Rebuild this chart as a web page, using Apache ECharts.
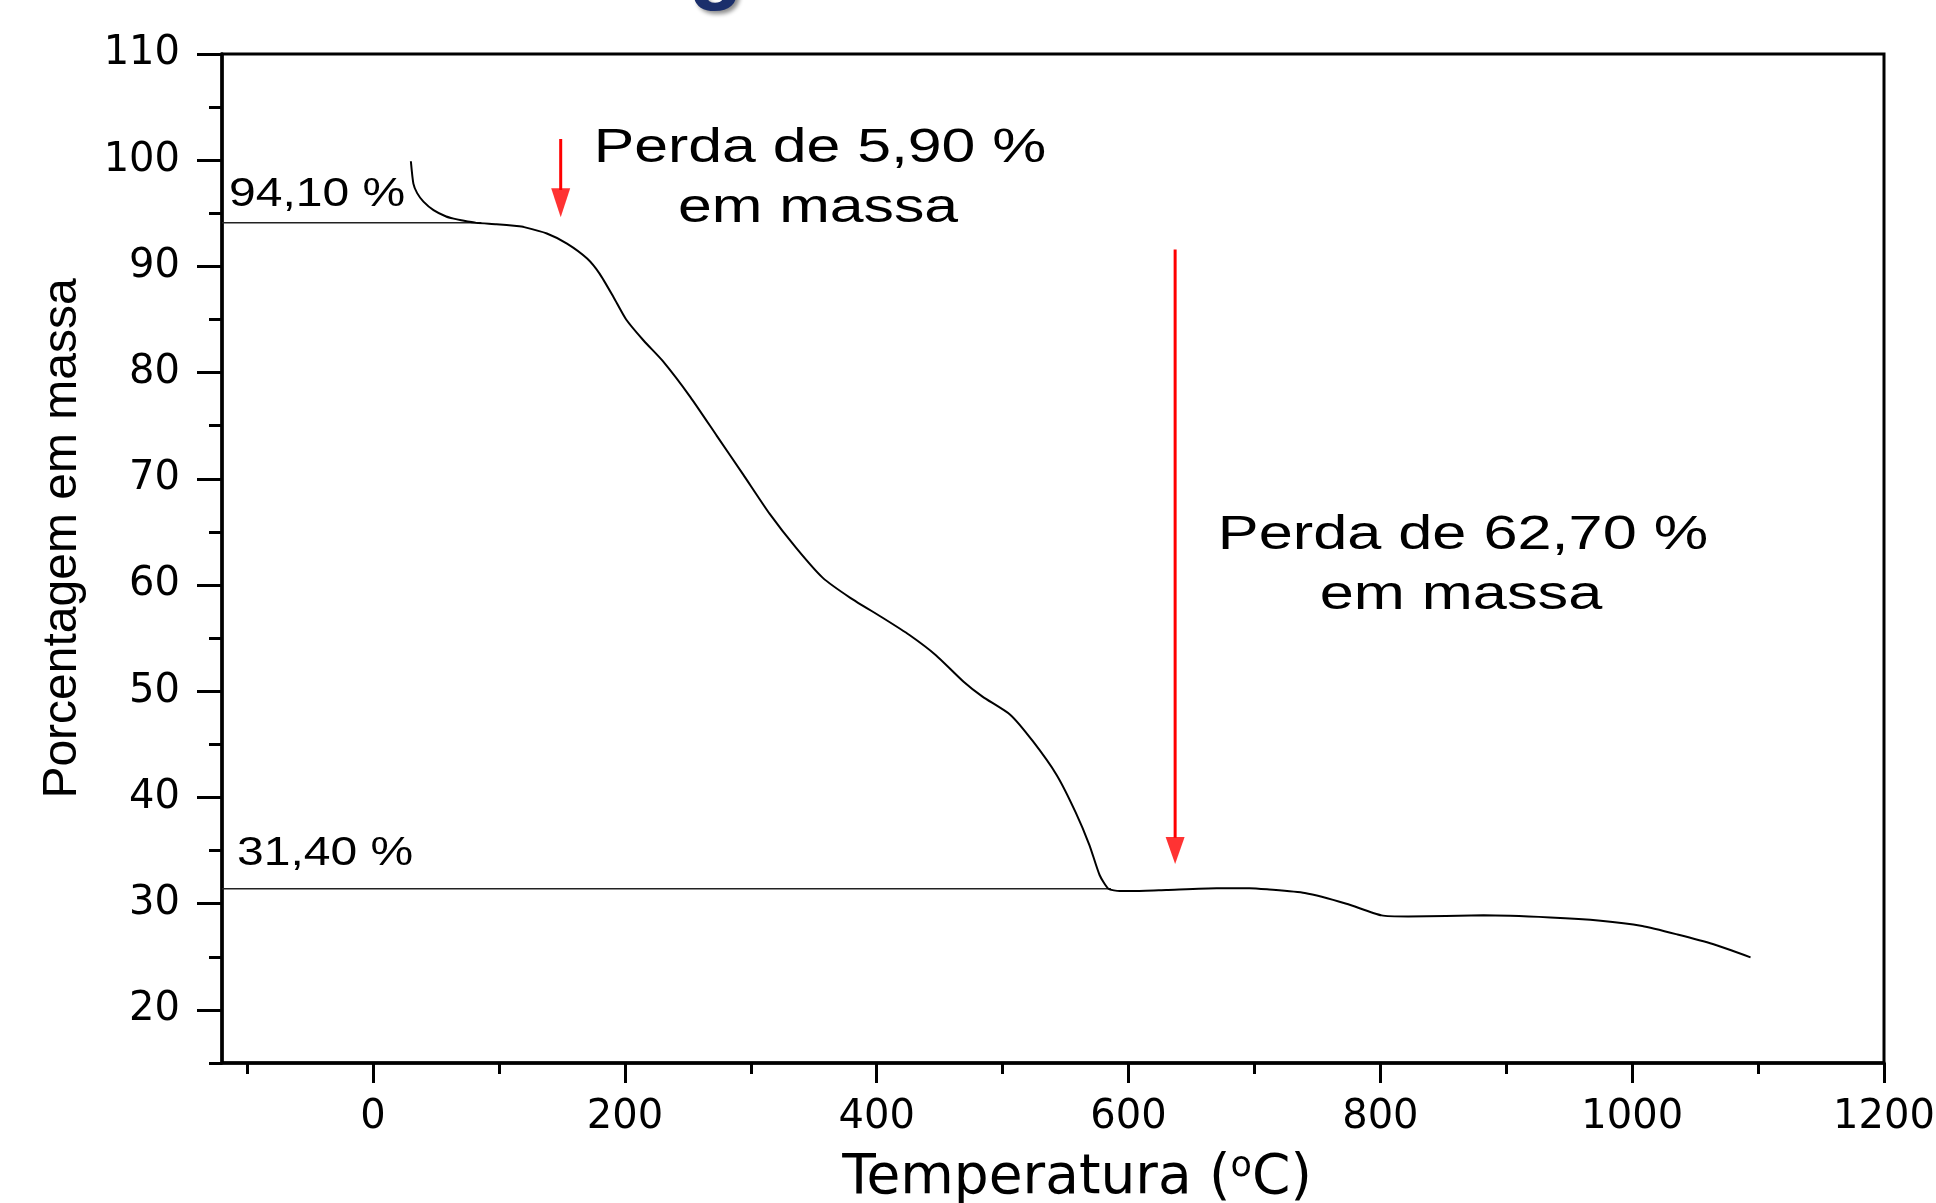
<!DOCTYPE html>
<html><head><meta charset="utf-8">
<style>html,body{margin:0;padding:0;background:#fff}#c{width:1936px;height:1203px}</style>
<script src="https://cdn.jsdelivr.net/npm/echarts@6/dist/echarts.min.js"></script>
</head><body><div id="c"></div>
<script>
// Temperature (°C) and remaining mass (%)
const temperature = [30, 32, 35, 40, 48, 58, 64, 70, 82, 98, 114, 120, 138, 154, 170, 180, 191, 201, 215, 230, 252, 273, 294, 315, 336, 357, 379, 405, 426, 447, 469, 484, 506, 524, 543, 558, 569, 577, 584, 593, 604, 630, 670, 696, 710, 740, 773, 801, 822, 882, 935, 975, 1008, 1036, 1064, 1094];
const massPercent = [99.9, 97.8, 96.9, 96.1, 95.3, 94.7, 94.5, 94.35, 94.1, 93.98, 93.8, 93.7, 93.1, 92.15, 90.74, 89.3, 87.1, 85.0, 83.0, 81.1, 77.7, 74.05, 70.4, 66.7, 63.5, 60.7, 58.8, 56.9, 55.3, 53.4, 50.9, 49.5, 47.8, 45.3, 42.1, 38.6, 35.5, 32.7, 31.4, 31.2, 31.2, 31.3, 31.46, 31.46, 31.35, 31.0, 30.0, 28.9, 28.8, 28.9, 28.7, 28.4, 27.9, 27.1, 26.2, 24.95];

// Plateau reference lines [temperature, mass]
const plateau1 = [[-120, 94.1], [86, 94.1]];
const plateau2 = [[-120, 31.4], [586, 31.4]];

// Red arrows: shaft [top, head base] and head centre, in data units
const arrow1Shaft = [[149, 102.0], [149, 97.2]];
const arrow1Head = [[149, 96.0]];
const arrow2Shaft = [[637, 91.6], [637, 36.2]];
const arrow2Head = [[637, 35.0]];

// Axis ticks
const xMajorTicks = [0, 200, 400, 600, 800, 1000, 1200];
const xMinorTicks = [-100, 100, 300, 500, 700, 900, 1100];
const yMajorTicks = [20, 30, 40, 50, 60, 70, 80, 90, 100, 110];
const yMinorTicks = [15, 25, 35, 45, 55, 65, 75, 85, 95, 105];

// Annotation texts
const label1 = '94,10 %';
const label2 = '31,40 %';
const note1 = ['Perda de 5,90 %', 'em massa'];
const note2 = ['Perda de 62,70 %', 'em massa'];

const chart = echarts.init(document.getElementById('c'), null, {renderer: 'canvas'});
const curve = temperature.map((t, i) => [t, massPercent[i]]);
const tickFont = 'DejaVu Sans';
const sansFont = 'Liberation Sans';
const plain = v => String(v);

const xBase = {type: 'value', min: -120, max: 1200, position: 'bottom', splitLine: {show: false}};
const yBase = {type: 'value', min: 15, max: 110, position: 'left', splitLine: {show: false}};

const annText = (txt, x, y, size, sx, align) => ({
  type: 'text', x: x, y: y, scaleX: sx, z: 100,
  style: {text: txt, fontFamily: sansFont, fontSize: size, fill: '#000', align: align, verticalAlign: 'middle'}
});

chart.setOption({
  animation: false,
  backgroundColor: '#fff',
  grid: {left: 222, right: 52, top: 54, bottom: 140, show: true, borderColor: '#000', borderWidth: 3, outerBoundsMode: 'none'},
  xAxis: [
    Object.assign({}, xBase, {
      axisLine: {show: true, onZero: false, lineStyle: {color: '#000', width: 3.5}},
      axisTick: {show: true, customValues: xMajorTicks, length: 20, lineStyle: {color: '#000', width: 3}},
      axisLabel: {customValues: xMajorTicks, formatter: plain, color: '#000', fontFamily: tickFont, fontSize: 40, margin: 35},
      name: 'Temperatura ({sup|o}C)',
      nameLocation: 'middle', nameGap: 86,
      nameTextStyle: {color: '#000', fontFamily: tickFont, fontSize: 55, lineHeight: 60, padding: [0, 0, 0, 48],
        rich: {sup: {fontFamily: tickFont, fontSize: 35, lineHeight: 36, verticalAlign: 'top', color: '#000'}}}
    }),
    Object.assign({}, xBase, {
      axisLine: {show: false, onZero: false},
      axisTick: {show: true, customValues: xMinorTicks, length: 11, lineStyle: {color: '#000', width: 3}},
      axisLabel: {show: false}
    })
  ],
  yAxis: [
    Object.assign({}, yBase, {
      axisLine: {show: true, onZero: false, lineStyle: {color: '#000', width: 3.5}},
      axisTick: {show: true, customValues: yMajorTicks, length: 25, lineStyle: {color: '#000', width: 3}},
      axisLabel: {customValues: yMajorTicks, formatter: plain, color: '#000', fontFamily: tickFont, fontSize: 40, margin: 42},
      name: 'Porcentagem em massa',
      nameLocation: 'middle', nameGap: 133,
      nameTextStyle: {color: '#000', fontFamily: sansFont, fontSize: 48, lineHeight: 52, padding: [0, 0, 0, 40]}
    }),
    Object.assign({}, yBase, {
      axisLine: {show: false, onZero: false},
      axisTick: {show: true, customValues: yMinorTicks, length: 13, lineStyle: {color: '#000', width: 3}},
      axisLabel: {show: false}
    })
  ],
  series: [
    {type: 'line', data: plateau1, showSymbol: false, lineStyle: {color: '#222', width: 1.5}, silent: true},
    {type: 'line', data: plateau2, showSymbol: false, lineStyle: {color: '#222', width: 1.5}, silent: true},
    {type: 'line', data: curve, showSymbol: false, smooth: 0.2, lineStyle: {color: '#000', width: 2}, z: 3},
    {type: 'line', data: arrow1Shaft, showSymbol: false, lineStyle: {color: '#ff0000', width: 3}},
    {type: 'line', data: arrow2Shaft, showSymbol: false, lineStyle: {color: '#ff0000', width: 3}},
    {type: 'scatter', data: arrow1Head, symbol: 'triangle', symbolRotate: 180, symbolSize: [19, 29], itemStyle: {color: '#ff0000'}},
    {type: 'scatter', data: arrow2Head, symbol: 'triangle', symbolRotate: 180, symbolSize: [19, 27], itemStyle: {color: '#ff0000'}}
  ],
  graphic: [
    annText(label1, 229, 195, 40, 1.2, 'left'),
    annText(label2, 237, 854, 40, 1.2, 'left'),
    annText(note1[0], 820, 148, 49, 1.24, 'center'),
    annText(note1[1], 818, 208, 49, 1.24, 'center'),
    annText(note2[0], 1463, 535, 49, 1.25, 'center'),
    annText(note2[1], 1461, 595, 49, 1.25, 'center'),
    {type: 'text', x: 716, y: -33, z: 100,
     style: {text: 'g', fontFamily: sansFont, fontWeight: 'bold', fontSize: 90, fill: '#1b2f6b', align: 'center', verticalAlign: 'middle',
       textShadowColor: 'rgba(0,0,0,0.45)', textShadowBlur: 4, textShadowOffsetX: 3, textShadowOffsetY: 3}}
  ]
});
</script></body></html>
